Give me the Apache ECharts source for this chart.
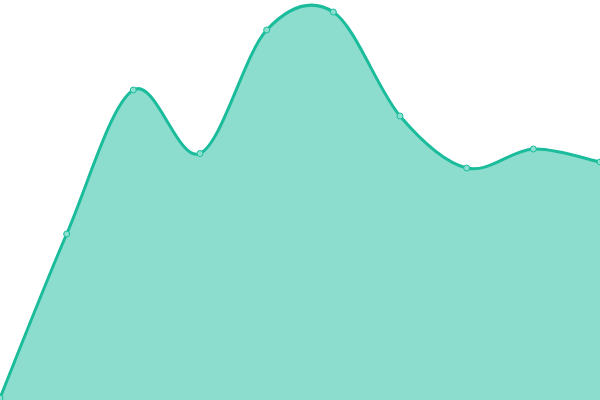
<!DOCTYPE html>
<html><head><meta charset="utf-8">
<script src="https://cdn.jsdelivr.net/npm/echarts@6/dist/echarts.min.js"></script>
<style>html,body{margin:0;padding:0;background:#fff}#c{width:600px;height:400px}</style>
</head><body><div id="c"></div>
<script>
const categories = ['1','2','3','4','5','6','7','8','9','10'];
const values = [2, 166, 310, 246.5, 370, 388, 284, 232, 251, 238];
const chart = echarts.init(document.getElementById('c'));
const K = 1 / 6;
function renderCurve(params, api) {
  const pts = values.map((v, i) => api.coord([i, v]));
  const base = api.coord([0, 0])[1];
  const n = pts.length;
  let d = 'M' + pts[0][0] + ' ' + pts[0][1];
  for (let i = 0; i < n - 1; i++) {
    const p0 = pts[Math.max(i - 1, 0)], p1 = pts[i], p2 = pts[i + 1], p3 = pts[Math.min(i + 2, n - 1)];
    const c1 = [p1[0] + (p2[0] - p0[0]) * K, p1[1] + (p2[1] - p0[1]) * K];
    const c2 = [p2[0] - (p3[0] - p1[0]) * K, p2[1] - (p3[1] - p1[1]) * K];
    d += ' C' + c1[0] + ' ' + c1[1] + ' ' + c2[0] + ' ' + c2[1] + ' ' + p2[0] + ' ' + p2[1];
  }
  const area = d + ' L' + pts[n - 1][0] + ' ' + base + ' L' + pts[0][0] + ' ' + base + ' Z';
  return {
    type: 'group',
    children: [
      {type: 'path', shape: {pathData: area}, style: {fill: 'rgba(26,188,156,0.5)', stroke: null}},
      {type: 'path', shape: {pathData: d}, style: {fill: null, stroke: '#1abc9c', lineWidth: 3}}
    ]
  };
}
chart.setOption({
  animation: false,
  grid: {left: 0, right: 0, top: 0, bottom: 0},
  xAxis: {type: 'category', data: categories, boundaryGap: false, show: false},
  yAxis: {type: 'value', min: 0, max: 400, show: false},
  series: [
    {type: 'custom', data: [[0, 0]], renderItem: renderCurve, z: 1, silent: true},
    {
      type: 'line',
      data: values,
      z: 3,
      symbol: 'circle',
      symbolSize: 6,
      itemStyle: {color: '#8ce0cf', borderColor: '#1abc9c', borderWidth: 1},
      lineStyle: {width: 0, opacity: 0}
    }
  ]
});
</script></body></html>
